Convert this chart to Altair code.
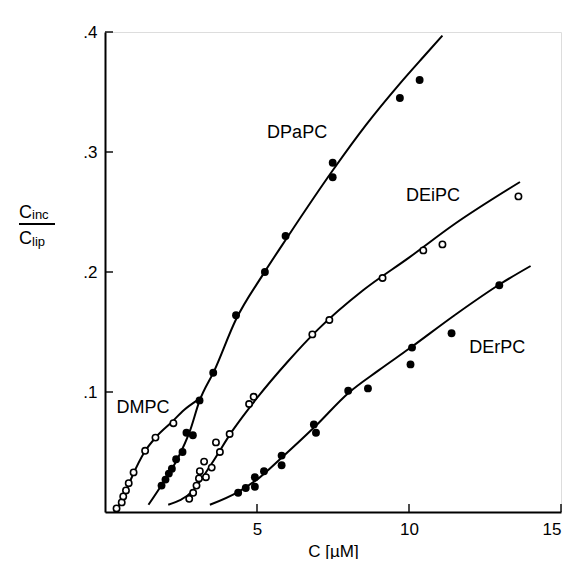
import altair as alt
import pandas as pd

# ---- measured points ----
dmpc_x = [0.38, 0.55, 0.6, 0.69, 0.78, 0.94, 1.32, 1.66, 2.25]
dmpc_y = [0.003, 0.008, 0.013, 0.018, 0.024, 0.033, 0.051, 0.062, 0.074]

dpapc_x = [1.86, 1.99, 2.1, 2.2, 2.34, 2.55, 2.68, 2.89, 3.11, 3.56, 4.31, 5.26, 5.94, 7.49, 7.49, 9.7, 10.35]
dpapc_y = [0.022, 0.027, 0.032, 0.036, 0.044, 0.05, 0.066, 0.064, 0.093, 0.116, 0.164, 0.200, 0.230, 0.291, 0.279, 0.345, 0.360]

deipc_x = [2.77, 2.9, 3.01, 3.09, 3.12, 3.32, 3.26, 3.51, 3.78, 3.65, 4.1, 4.74, 4.89, 6.82, 7.38, 9.13, 10.47, 11.1, 13.6]
deipc_y = [0.011, 0.016, 0.022, 0.028, 0.034, 0.029, 0.042, 0.037, 0.050, 0.058, 0.065, 0.090, 0.096, 0.148, 0.160, 0.195, 0.218, 0.223, 0.263]

derpc_x = [4.38, 4.63, 4.93, 4.93, 5.23, 5.81, 5.81, 6.87, 6.94, 8.0, 8.65, 10.05, 10.1, 11.4, 12.97]
derpc_y = [0.016, 0.020, 0.021, 0.029, 0.034, 0.047, 0.039, 0.073, 0.066, 0.101, 0.103, 0.123, 0.137, 0.149, 0.189]

# ---- fitted curves ----
dmpc_cx = [0.3, 0.5, 0.7, 0.9, 1.3, 1.7, 2.2, 2.6, 3.03]
dmpc_cy = [0.0, 0.007, 0.018, 0.030, 0.050, 0.063, 0.075, 0.085, 0.093]

dpapc_cx = [1.43, 1.9, 2.4, 2.8, 3.1, 3.6, 4.3, 5.2, 6.0, 7.5, 8.6, 9.7, 10.5, 11.1]
dpapc_cy = [0.006, 0.024, 0.045, 0.068, 0.092, 0.118, 0.160, 0.198, 0.229, 0.285, 0.323, 0.357, 0.380, 0.397]

deipc_cx = [2.08, 2.9, 3.5, 4.2, 5.0, 6.0, 7.0, 8.5, 10.0, 11.5, 13.65]
deipc_cy = [0.006, 0.018, 0.040, 0.068, 0.095, 0.125, 0.152, 0.185, 0.212, 0.240, 0.275]

derpc_cx = [3.45, 4.4, 5.0, 5.8, 6.9, 8.0, 9.0, 10.0, 11.5, 13.0, 14.0]
derpc_cy = [0.006, 0.017, 0.027, 0.045, 0.071, 0.099, 0.118, 0.136, 0.164, 0.190, 0.205]

series_names = ["DMPC", "DPaPC", "DEiPC", "DErPC"]
series_filled = [False, True, False, True]
label_x = [1.25, 6.32, 10.79, 12.9]
label_y = [0.087, 0.316, 0.263, 0.137]

x_ticks = [5, 10, 15]
y_ticks = [0.1, 0.2, 0.3, 0.4]

pts_list = [(dmpc_x, dmpc_y), (dpapc_x, dpapc_y), (deipc_x, deipc_y), (derpc_x, derpc_y)]
crv_list = [(dmpc_cx, dmpc_cy), (dpapc_cx, dpapc_cy), (deipc_cx, deipc_cy), (derpc_cx, derpc_cy)]

rows = []
for name, filled, (xs, ys) in zip(series_names, series_filled, pts_list):
    for a, b in zip(xs, ys):
        rows.append({"x": a, "y": b, "series": name, "filled": filled})
pts = pd.DataFrame(rows)

crows = []
for name, (xs, ys) in zip(series_names, crv_list):
    for a, b in zip(xs, ys):
        crows.append({"x": a, "y": b, "series": name})
crv = pd.DataFrame(crows)

labels = pd.DataFrame({"x": label_x, "y": label_y, "text": series_names})

FONT = "Liberation Sans"
xs = alt.Scale(domain=[0, 15], nice=False)
ys = alt.Scale(domain=[0, 0.4], nice=False)

X = alt.X("x:Q", scale=xs, axis=alt.Axis(
    values=x_ticks, ticks=False, grid=False, domainColor="black", domainWidth=2,
    labelFont=FONT, labelFontSize=17, labelColor="black", labelPadding=9,
    title="C [µM]", titleFont=FONT, titleFontSize=17, titleFontWeight="normal",
    titleColor="black", titlePadding=6))
Y = alt.Y("y:Q", scale=ys, axis=alt.Axis(
    values=y_ticks, ticks=False, grid=False, domainColor="black", domainWidth=2,
    labelFont=FONT, labelFontSize=17, labelColor="black", labelPadding=8,
    labelExpr="'.' + round(datum.value*10)", title=None))

lines = alt.Chart(crv).mark_line(color="black", strokeWidth=2, interpolate="monotone").encode(
    x=X, y=Y, detail="series:N", order="x:Q")

filled_pts = alt.Chart(pts[pts["filled"]]).mark_point(
    shape="circle", filled=True, color="black", size=62, opacity=1).encode(x="x:Q", y="y:Q")
open_pts = alt.Chart(pts[~pts["filled"]]).mark_point(
    shape="circle", filled=True, fill="white", stroke="black", strokeWidth=1.6, size=40, opacity=1
).encode(x="x:Q", y="y:Q")

txt = alt.Chart(labels).mark_text(font=FONT, fontSize=18, color="black").encode(
    x="x:Q", y="y:Q", text="text:N")

xt = alt.Chart(pd.DataFrame({"v": x_ticks})).mark_tick(
    orient="vertical", size=8, thickness=2, color="black", yOffset=-4).encode(
    x="v:Q", y=alt.datum(0))
yt = alt.Chart(pd.DataFrame({"v": y_ticks})).mark_tick(
    orient="horizontal", size=8, thickness=2, color="black", xOffset=4).encode(
    y="v:Q", x=alt.datum(0))

one = pd.DataFrame({"a": [0]})
fr_c1 = alt.Chart(one).mark_text(text="C", font=FONT, fontSize=18, align="left", baseline="alphabetic", color="black").encode(
    x=alt.value(-86), y=alt.value(186))
fr_s1 = alt.Chart(one).mark_text(text="inc", font=FONT, fontSize=13, align="left", baseline="alphabetic", color="black").encode(
    x=alt.value(-73), y=alt.value(187))
fr_bar = alt.Chart(one).mark_rule(color="black", strokeWidth=1.8).encode(
    x=alt.value(-86), x2=alt.value(-50), y=alt.value(192))
fr_c2 = alt.Chart(one).mark_text(text="C", font=FONT, fontSize=18, align="left", baseline="alphabetic", color="black").encode(
    x=alt.value(-86), y=alt.value(212))
fr_s2 = alt.Chart(one).mark_text(text="lip", font=FONT, fontSize=13, align="left", baseline="alphabetic", color="black").encode(
    x=alt.value(-73), y=alt.value(214))

chart = alt.layer(lines, open_pts, filled_pts, txt, xt, yt, fr_c1, fr_s1, fr_bar, fr_c2, fr_s2).properties(
    width=456, height=480,
    autosize=alt.AutoSizeParams(type="none"),
    padding={"left": 97, "top": 24, "right": 9, "bottom": 47},
).configure_view(stroke=None).configure(background="white")

chart.save("out.html", embed_options={"renderer": "svg", "actions": False})
